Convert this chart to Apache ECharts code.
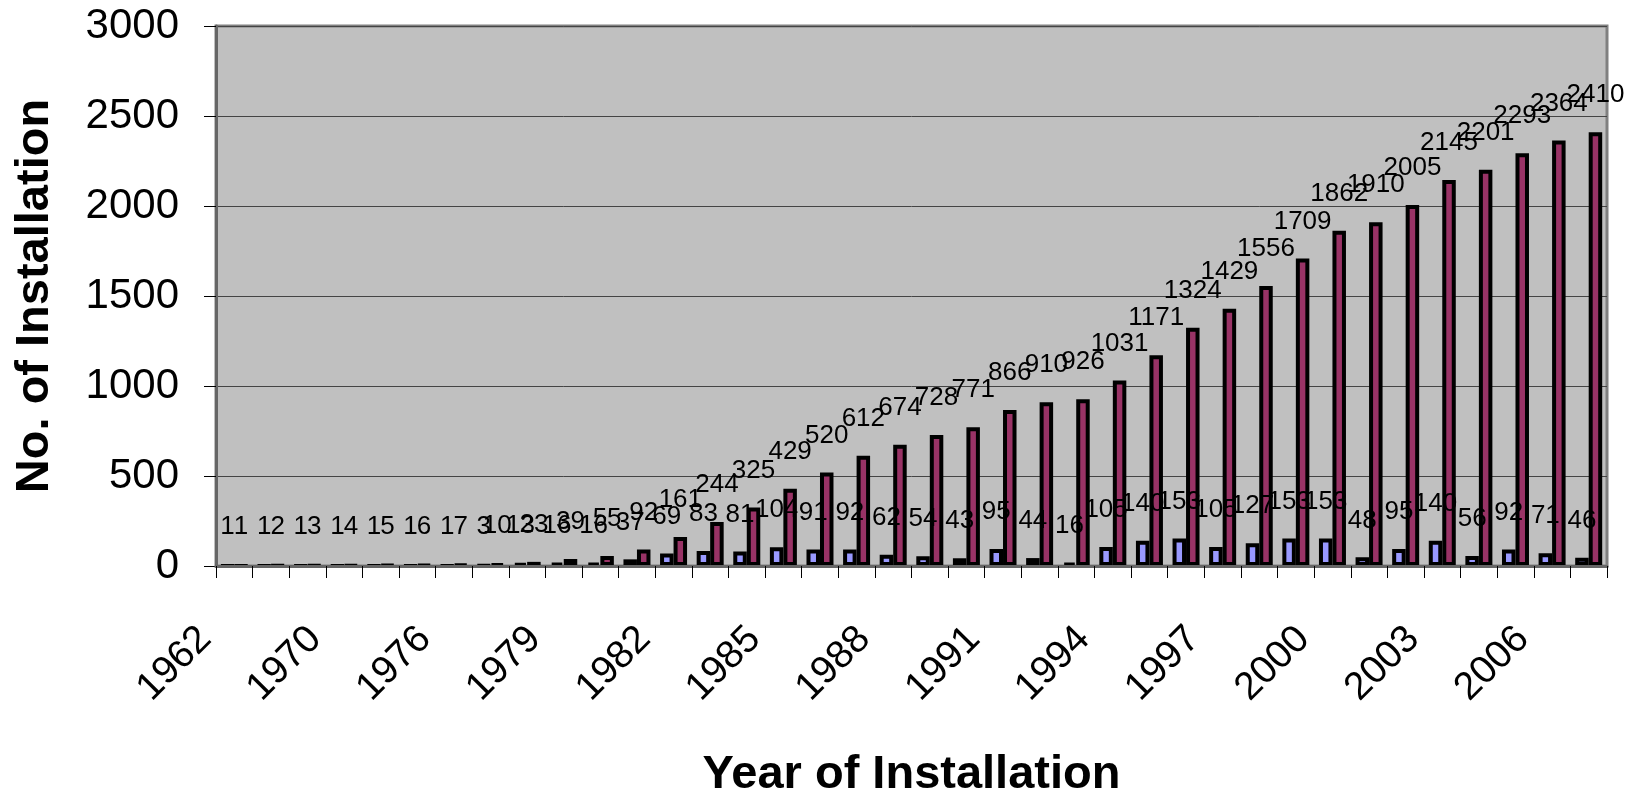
<!DOCTYPE html>
<html>
<head>
<meta charset="utf-8">
<script src="https://cdn.jsdelivr.net/npm/echarts@6/dist/echarts.min.js"></script>
<style>
  html, body { margin: 0; padding: 0; background: #ffffff; }
  #chart { width: 1636px; height: 795px; }
</style>
</head>
<body>
<div id="chart"></div>
<script>
// Installation years (only every third one is labelled on the axis)
const years = ['1962', '1966', '1968', '1970', '1972', '1974', '1976', '1977', '1978',
  '1979', '1980', '1981', '1982', '1983', '1984', '1985', '1986', '1987', '1988',
  '1989', '1990', '1991', '1992', '1993', '1994', '1995', '1996', '1997', '1998',
  '1999', '2000', '2001', '2002', '2003', '2004', '2005', '2006', '2007'];

// New installations in each year
const yearly = [1, 1, 1, 1, 1, 1, 1, 3, 13, 16, 16, 37, 69, 83, 81, 104, 91, 92, 62,
  54, 43, 95, 44, 16, 105, 140, 153, 105, 127, 153, 153, 48, 95, 140, 56, 92, 71, 46];

// Running total of installations
const cumulative = [1, 2, 3, 4, 5, 6, 7, 10, 23, 39, 55, 92, 161, 244, 325, 429, 520,
  612, 674, 728, 771, 866, 910, 926, 1031, 1171, 1324, 1429, 1556, 1709, 1862, 1910,
  2005, 2145, 2201, 2293, 2364, 2410];

// Value axis ticks
const yTicks = { min: 0, max: 3000, step: 500 };

const chart = echarts.init(document.getElementById('chart'), null, { renderer: 'canvas' });

const labelStyle = {
  show: true,
  position: 'top',
  distance: 24,
  color: '#000',
  fontFamily: 'Liberation Sans',
  fontSize: 26
};

chart.setOption({
  backgroundColor: '#ffffff',
  animation: false,
  grid: {
    left: 216,
    right: 29,
    top: 26,
    bottom: 229,
    containLabel: false,
    outerBoundsMode: 'none',
    show: true,
    backgroundColor: '#C0C0C0',
    borderColor: '#808080',
    borderWidth: 3
  },
  xAxis: {
    type: 'category',
    data: years,
    z: 3,
    name: 'Year of Installation',
    nameLocation: 'middle',
    nameGap: 186,
    nameTextStyle: {
      fontFamily: 'Liberation Sans',
      fontWeight: 'bold',
      fontSize: 47,
      color: '#000'
    },
    axisLine: { show: true, lineStyle: { color: '#666', width: 3 } },
    axisTick: {
      show: true,
      interval: 0,
      alignWithLabel: false,
      length: 12,
      lineStyle: { color: '#000', width: 1 }
    },
    axisLabel: {
      interval: 2,
      rotate: 45,
      margin: 38,
      padding: [0, 41, 0, 0],
      fontFamily: 'Liberation Sans',
      fontSize: 39,
      color: '#000'
    },
    splitLine: { show: false }
  },
  yAxis: {
    type: 'value',
    min: yTicks.min,
    max: yTicks.max,
    interval: yTicks.step,
    name: 'No. of Installation',
    nameLocation: 'middle',
    nameGap: 157,
    nameRotate: 90,
    nameTextStyle: {
      fontFamily: 'Liberation Sans',
      fontWeight: 'bold',
      fontSize: 47,
      color: '#000'
    },
    axisLine: { show: true, lineStyle: { color: '#666', width: 3 } },
    axisTick: { show: true, length: 12, lineStyle: { color: '#000', width: 1 } },
    axisLabel: {
      margin: 37,
      fontFamily: 'Liberation Sans',
      fontSize: 42,
      color: '#000',
      formatter: (v) => String(v)
    },
    splitLine: { show: true, lineStyle: { color: '#444', width: 1 } }
  },
  series: [
    {
      name: 'Yearly',
      type: 'bar',
      data: yearly,
      barWidth: 13.5,
      barGap: '0%',
      itemStyle: { color: '#9999FF', borderColor: '#000', borderWidth: 4 },
      label: labelStyle
    },
    {
      name: 'Cumulative',
      type: 'bar',
      data: cumulative,
      barWidth: 13.5,
      itemStyle: { color: '#993366', borderColor: '#000', borderWidth: 4 },
      label: labelStyle
    }
  ]
});
</script>
</body>
</html>
